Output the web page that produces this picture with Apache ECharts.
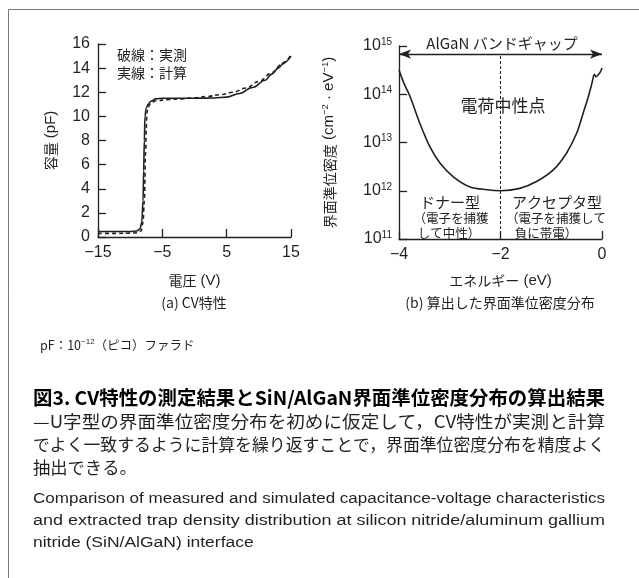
<!DOCTYPE html>
<html>
<head>
<meta charset="utf-8">
<script src="https://cdn.jsdelivr.net/npm/echarts@6/dist/echarts.min.js"></script>
<style>
  html, body { margin: 0; padding: 0; background: #fff; }
  #chart { width: 639px; height: 578px; }
</style>
</head>
<body>
<div id="chart"></div>
<script>
// (a) CV characteristics: simulated (solid) and measured (dashed), capacitance in pF
const cvCalcVoltage = [-15, -12, -10, -9, -8.5, -8.2, -8.0, -7.9, -7.8, -7.7, -7.5, -7.2, -6.8, -6.0, -5.0, -3.0, 0, 3, 5, 7, 9, 11, 12, 13, 14, 15];
const cvCalcCapacitance = [0.45, 0.45, 0.46, 0.5, 0.65, 1.2, 3.0, 5.5, 8.0, 10.0, 10.7, 11.0, 11.25, 11.45, 11.5, 11.5, 11.5, 11.52, 11.6, 11.9, 12.4, 13.0, 13.5, 14.0, 14.5, 15.0];
const cvMeasVoltage = [-15, -12, -10, -9, -8.3, -8.0, -7.8, -7.6, -7.5, -7.4, -7.2, -6.8, -6.0, -4.0, -2.0, 0, 2, 4, 6, 8, 10, 12, 13.5, 15];
const cvMeasCapacitance = [0.3, 0.3, 0.32, 0.35, 0.5, 1.2, 3.0, 7.0, 9.0, 10.3, 10.8, 11.1, 11.3, 11.4, 11.45, 11.55, 11.65, 11.8, 12.0, 12.35, 12.9, 13.6, 14.3, 15.1];

// (b) extracted interface trap density (cm^-2 eV^-1) versus energy (eV)
const trapEnergy = [-4, -3.9, -3.78, -3.59, -3.39, -3.19, -2.93, -2.6, -2.27, -2.0, -1.62, -1.29, -0.96, -0.7, -0.5, -0.37, -0.27, -0.2, -0.15, -0.12, -0.08, -0.04, 0];
const trapDensity = [3.16e14, 1.66e14, 8.9e13, 2.5e13, 8.1e12, 3.7e12, 1.95e12, 1.2e12, 1.05e12, 1.0e12, 1.12e12, 1.55e12, 2.7e12, 6.0e12, 1.55e13, 4.1e13, 8.9e13, 1.66e14, 2.6e14, 2.3e14, 2.5e14, 2.8e14, 3.5e14];

// band-gap arrow level and charge-neutral-point energy
const bandGapLevel = 6.8e14;
const neutralPointEnergy = -2;

const FONT = '"Liberation Sans", "Noto Sans CJK JP", sans-serif';
const JP = '"Noto Sans CJK JP", sans-serif';
const EN = '"Liberation Sans", sans-serif';
const INK = '#231f20';

const pair = (xs, ys) => xs.map((x, i) => [x, ys[i]]);
const minus = v => (v < 0 ? '\u2212' + Math.abs(v) : String(v));

// caption lines are stretched horizontally to fill a fixed measure
const measureCtx = document.createElement('canvas').getContext('2d');
function textWidth(text, font) {
  measureCtx.font = font;
  return measureCtx.measureText(text).width;
}
function captionLine(text, font, x, y, scaleX, fill) {
  return {
    type: 'text', x: x, y: y, scaleX: scaleX, silent: true,
    style: { text: text, font: font, fill: fill || INK, verticalAlign: 'middle' }
  };
}

const captionLeft = 33;
const captionMeasure = 572;

const titleText = '図3. CV特性の測定結果とSiN/AlGaN界面準位密度分布の算出結果';
const titleFont = 'bold 19px ' + JP;
const bodyLines = [
  '—U字型の界面準位密度分布を初めに仮定して，CV特性が実測と計算',
  'でよく一致するように計算を繰り返すことで，界面準位密度分布を精度よく',
  '抽出できる。'
];
const bodyFont = '17.3px ' + JP;
const englishLines = [
  'Comparison of measured and simulated capacitance-voltage characteristics',
  'and extracted trap density distribution at silicon nitride/aluminum gallium',
  'nitride (SiN/AlGaN) interface'
];
const englishFont = '15.5px ' + EN;

const titleScale = captionMeasure / textWidth(titleText, titleFont);
const bodyScales = bodyLines.slice(0, 2).map(t => captionMeasure / textWidth(t, bodyFont));
const englishScales = englishLines.slice(0, 2).map(t => captionMeasure / textWidth(t, englishFont));
const englishLastScale = (englishScales[0] + englishScales[1]) / 2;

const axisCommon = {
  axisLine: { show: true, onZero: false, lineStyle: { color: INK, width: 1.3 } },
  axisTick: { show: true, inside: true, length: 8, lineStyle: { color: INK, width: 1.3 } },
  splitLine: { show: false },
  axisLabel: { color: INK, fontFamily: FONT, fontSize: 16 }
};

// axis-name styles: Japanese text with slightly larger Latin parts and superscripts
const nameRich = {
  l: { fontSize: 15, fontFamily: FONT, color: INK },
  s: { fontSize: 9.5, fontFamily: FONT, color: INK, padding: [0, 0, 8, 0] }
};

const chart = echarts.init(document.getElementById('chart'), null, { renderer: 'canvas' });

const option = {
  backgroundColor: '#fff',
  animation: false,
  grid: [
    { left: 98, top: 44, width: 193, height: 193 },
    { left: 399, top: 46, width: 203, height: 193 }
  ],
  xAxis: [
    Object.assign({}, axisCommon, {
      gridIndex: 0, type: 'value', min: -15, max: 15, interval: 10,
      axisLabel: Object.assign({}, axisCommon.axisLabel, { margin: 8, formatter: minus }),
      name: '電圧{l| (V)}', nameLocation: 'middle', nameGap: 36,
      nameTextStyle: { color: INK, fontFamily: JP, fontSize: 14, rich: nameRich }
    }),
    Object.assign({}, axisCommon, {
      gridIndex: 1, type: 'value', min: -4, max: 0, interval: 2,
      axisLabel: Object.assign({}, axisCommon.axisLabel, { margin: 8, formatter: minus }),
      name: 'エネルギー{l| (eV)}', nameLocation: 'middle', nameGap: 34,
      nameTextStyle: { color: INK, fontFamily: JP, fontSize: 14, rich: nameRich }
    })
  ],
  yAxis: [
    Object.assign({}, axisCommon, {
      gridIndex: 0, type: 'value', min: 0, max: 16, interval: 2,
      axisLabel: Object.assign({}, axisCommon.axisLabel, { margin: 8 }),
      name: '容量{l| (pF)}', nameLocation: 'middle', nameGap: 40, nameRotate: 90,
      nameTextStyle: { color: INK, fontFamily: JP, fontSize: 14, rich: nameRich }
    }),
    Object.assign({}, axisCommon, {
      gridIndex: 1, type: 'log', logBase: 10, min: 1e11, max: 1e15,
      axisLabel: {
        color: INK, fontFamily: FONT, margin: 7,
        formatter: v => '{b|10}{s|' + Math.round(Math.log10(v)) + '}',
        rich: {
          b: { fontSize: 16, fontFamily: FONT, color: INK },
          s: { fontSize: 10, fontFamily: FONT, color: INK, padding: [0, 0, 8, 0] }
        }
      },
      name: '界面準位密度{l| (cm}{s|\u22122}{l| · eV}{s|\u22121}{l|)}', nameLocation: 'middle', nameGap: 61, nameRotate: 90,
      nameTextStyle: { color: INK, fontFamily: JP, fontSize: 14, rich: nameRich }
    })
  ],
  series: [
    {
      name: '実測', type: 'line', xAxisIndex: 0, yAxisIndex: 0,
      data: pair(cvMeasVoltage, cvMeasCapacitance),
      showSymbol: false, smooth: 0.4, smoothMonotone: 'x',
      lineStyle: { color: INK, width: 1.6, type: [4, 3] }
    },
    {
      name: '計算', type: 'line', xAxisIndex: 0, yAxisIndex: 0,
      data: pair(cvCalcVoltage, cvCalcCapacitance),
      showSymbol: false, smooth: 0.4, smoothMonotone: 'x',
      lineStyle: { color: INK, width: 1.6 }
    },
    {
      name: '界面準位密度', type: 'line', xAxisIndex: 1, yAxisIndex: 1,
      data: pair(trapEnergy, trapDensity),
      showSymbol: false, smooth: 0.3,
      lineStyle: { color: INK, width: 1.6 },
      markLine: {
        silent: true, animation: false, label: { show: false },
        data: [
          [
            { coord: [-4, bandGapLevel], symbol: 'arrow', symbolSize: [7, 12], lineStyle: { color: INK, width: 1.3, type: 'solid' } },
            { coord: [0, bandGapLevel], symbol: 'arrow', symbolSize: [7, 12] }
          ],
          [
            { coord: [neutralPointEnergy, 1e11], symbol: 'none', lineStyle: { color: INK, width: 1, type: [3, 2] } },
            { coord: [neutralPointEnergy, bandGapLevel], symbol: 'none' }
          ]
        ]
      }
    }
  ],
  graphic: [
    { type: 'rect', shape: { x: 8.5, y: 9.5, width: 700, height: 700 }, style: { fill: 'none', stroke: '#777', lineWidth: 1 }, silent: true },
    // legend notes, panel (a)
    { type: 'text', x: 117, y: 55, style: { text: '破線：実測', font: '14px ' + JP, fill: INK, verticalAlign: 'middle' } },
    { type: 'text', x: 117, y: 73, style: { text: '実線：計算', font: '14px ' + JP, fill: INK, verticalAlign: 'middle' } },
    // annotations, panel (b)
    { type: 'text', x: 502, y: 43, style: { text: 'AlGaN バンドギャップ', font: '15px ' + JP, fill: INK, align: 'center', verticalAlign: 'middle' } },
    { type: 'text', x: 503, y: 106, style: { text: '電荷中性点', font: '17px ' + JP, fill: INK, align: 'center', verticalAlign: 'middle' } },
    { type: 'text', x: 450, y: 202, style: { text: 'ドナー型', font: '15px ' + JP, fill: INK, align: 'center', verticalAlign: 'middle' } },
    { type: 'text', x: 451, y: 218, style: { text: '（電子を捕獲', font: '12.5px ' + JP, fill: INK, align: 'center', verticalAlign: 'middle' } },
    { type: 'text', x: 449, y: 233, style: { text: 'して中性）', font: '12.5px ' + JP, fill: INK, align: 'center', verticalAlign: 'middle' } },
    { type: 'text', x: 557, y: 202, style: { text: 'アクセプタ型', font: '15px ' + JP, fill: INK, align: 'center', verticalAlign: 'middle' } },
    { type: 'text', x: 556, y: 218, style: { text: '（電子を捕獲して', font: '12.5px ' + JP, fill: INK, align: 'center', verticalAlign: 'middle' } },
    { type: 'text', x: 546, y: 233, style: { text: '負に帯電）', font: '12.5px ' + JP, fill: INK, align: 'center', verticalAlign: 'middle' } },
    // panel captions
    { type: 'text', x: 194, y: 303, style: { text: '(a) CV特性', font: '14px ' + JP, fill: INK, align: 'center', verticalAlign: 'middle' } },
    { type: 'text', x: 500, y: 303, style: { text: '(b) 算出した界面準位密度分布', font: '14px ' + JP, fill: INK, align: 'center', verticalAlign: 'middle' } },
    { type: 'text', x: 40, y: 345, style: { text: 'pF：10{s|\u221212}（ピコ）ファラド', font: '12.5px ' + JP, fill: INK, verticalAlign: 'middle', rich: { s: { fontSize: 8, fontFamily: FONT, fill: INK, padding: [0, 0, 7, 0] } } } },
    // figure caption
    captionLine(titleText, titleFont, captionLeft, 398, titleScale, '#000'),
    captionLine(bodyLines[0], bodyFont, captionLeft, 421, bodyScales[0]),
    captionLine(bodyLines[1], bodyFont, captionLeft, 444, bodyScales[1]),
    captionLine(bodyLines[2], bodyFont, captionLeft, 467, 1),
    captionLine(englishLines[0], englishFont, captionLeft, 499, englishScales[0]),
    captionLine(englishLines[1], englishFont, captionLeft, 521, englishScales[1]),
    captionLine(englishLines[2], englishFont, captionLeft, 543, englishLastScale)
  ]
};

chart.setOption(option);
</script>
</body>
</html>
